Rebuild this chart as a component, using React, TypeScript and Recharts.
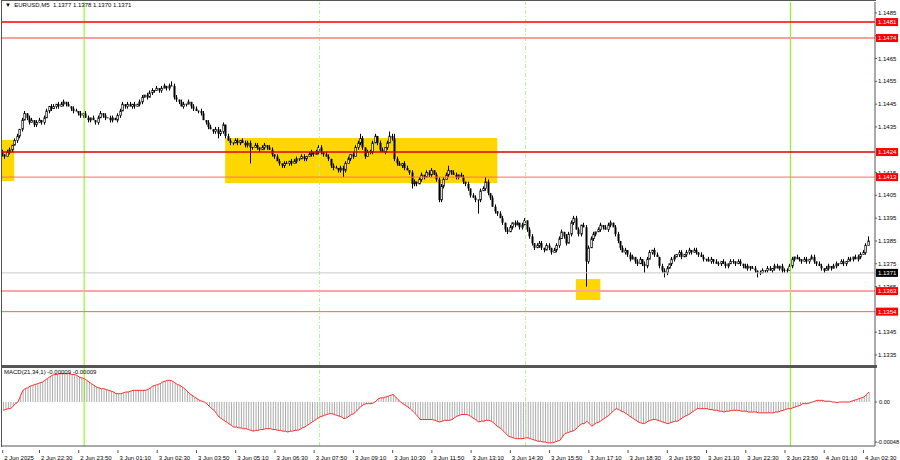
import React from "react";
import {
  ComposedChart,
  Bar,
  Line,
  XAxis,
  YAxis,
  ReferenceLine,
  ReferenceArea,
} from "recharts";

// prices are stored as pips above 1.1300 (e.g. 124 = 1.1424)
const firstOpen = 124;
const closes = [
  123, 122, 124, 125, 127, 129, 131, 134, 138, 141, 139, 137, 138, 136, 137, 138, 137, 139, 142, 144,
  143, 144, 145, 144, 145, 146, 145, 144, 143, 142, 142, 141, 140, 141, 139, 138, 139, 138, 137, 139,
  141, 140, 139, 139, 138, 139, 138, 140, 142, 145, 144, 145, 144, 145, 144, 145, 146, 148, 149, 148,
  150, 151, 151, 152, 151, 152, 153, 152, 153, 153, 148, 147, 146, 144, 145, 145, 146, 144, 143, 142,
  142, 141, 138, 137, 135, 134, 133, 134, 132, 133, 136, 131, 129, 128, 128, 129, 128, 129, 128, 127,
  128, 126, 126, 127, 126, 125, 126, 127, 126, 125, 123, 122, 120, 119, 118, 119, 119, 120, 119, 120,
  121, 121, 122, 121, 122, 123, 124, 123, 124, 126, 124, 123, 122, 121, 118, 117, 117, 116, 117, 116,
  119, 121, 123, 122, 126, 128, 130, 126, 122, 124, 124, 128, 131, 128, 125, 124, 126, 128, 131, 130,
  121, 119, 118, 119, 117, 116, 115, 110, 111, 110, 112, 114, 113, 115, 114, 116, 114, 112, 103, 109,
  112, 114, 116, 115, 114, 113, 114, 113, 111, 110, 108, 105, 104, 103, 103, 107, 108, 111, 106, 104,
  100, 98, 97, 95, 93, 90, 89, 91, 93, 92, 93, 91, 92, 94, 90, 87, 84, 82, 83, 84,
  82, 81, 83, 82, 80, 81, 83, 86, 89, 87, 84, 88, 93, 95, 90, 88, 92, 91, 76, 82,
  86, 88, 89, 90, 92, 91, 90, 92, 93, 91, 88, 85, 82, 80, 81, 79, 77, 78, 76, 75,
  77, 75, 74, 77, 80, 81, 79, 78, 74, 72, 71, 73, 75, 77, 78, 79, 80, 78, 79, 80,
  81, 80, 81, 80, 79, 78, 77, 77, 76, 77, 76, 75, 75, 76, 75, 74, 75, 76, 76, 75,
  76, 75, 74, 73, 74, 73, 73, 72, 71, 71, 72, 72, 73, 72, 73, 74, 73, 74, 72, 72,
  72, 74, 77, 78, 77, 77, 76, 77, 76, 77, 78, 76, 75, 74, 73, 72, 73, 74, 73, 74,
  75, 75, 76, 75, 76, 77, 77, 78, 77, 78, 79, 80, 83, 85,
];
const upperWicks = [
  1, 0, 1, 1, 0, 1, 1, 0, 1, 1, 0, 1, 1, 0, 1, 1, 0, 1, 1, 0,
  1, 1, 0, 1, 1, 1, 0, 1, 0, 1, 1, 0, 1, 0, 1, 1, 0, 1, 0, 1,
  1, 0, 1, 0, 1, 1, 0, 1, 1, 1, 0, 1, 1, 0, 1, 0, 1, 1, 0, 1,
  1, 1, 0, 1, 0, 1, 1, 0, 1, 2, 1, 1, 0, 1, 1, 0, 1, 0, 1, 1,
  0, 1, 1, 0, 1, 1, 0, 1, 1, 1, 1, 0, 1, 1, 0, 1, 1, 0, 1, 1,
  1, 1, 0, 1, 1, 0, 1, 1, 0, 1, 1, 0, 1, 1, 0, 1, 1, 0, 1, 1,
  1, 0, 1, 1, 0, 1, 1, 0, 1, 1, 1, 0, 1, 1, 0, 1, 1, 0, 1, 1,
  1, 1, 0, 1, 1, 1, 2, 1, 0, 1, 1, 1, 1, 0, 1, 1, 0, 1, 2, 1,
  2, 1, 1, 0, 1, 1, 0, 1, 1, 0, 1, 1, 0, 1, 1, 1, 0, 1, 1, 1,
  1, 1, 2, 0, 1, 1, 0, 1, 1, 0, 1, 0, 1, 1, 0, 1, 1, 2, 1, 0,
  1, 1, 0, 1, 1, 0, 1, 1, 0, 1, 1, 0, 1, 1, 0, 1, 1, 0, 1, 1,
  1, 0, 1, 1, 0, 1, 1, 1, 1, 0, 1, 1, 1, 1, 1, 1, 0, 1, 1, 1,
  1, 1, 0, 1, 1, 0, 1, 1, 1, 0, 1, 1, 0, 1, 1, 0, 1, 1, 0, 1,
  1, 0, 1, 1, 1, 0, 1, 1, 0, 1, 1, 1, 0, 1, 1, 0, 1, 1, 0, 1,
  1, 0, 1, 1, 0, 1, 1, 0, 1, 1, 0, 1, 1, 0, 1, 1, 0, 1, 1, 0,
  1, 1, 0, 1, 1, 0, 1, 1, 0, 1, 1, 0, 1, 1, 0, 1, 1, 0, 1, 1,
  1, 1, 1, 0, 1, 1, 0, 1, 1, 0, 1, 1, 0, 1, 1, 0, 1, 1, 0, 1,
  1, 0, 1, 1, 0, 1, 1, 0, 1, 1, 1, 1, 1, 2,
];
const lowerWicks = [
  1, 1, 0, 1, 1, 0, 1, 1, 1, 0, 1, 1, 0, 1, 1, 0, 1, 1, 0, 1,
  1, 0, 1, 1, 0, 1, 1, 0, 1, 1, 0, 1, 1, 1, 0, 1, 1, 0, 1, 1,
  0, 1, 1, 0, 1, 1, 0, 1, 1, 0, 1, 1, 0, 1, 1, 0, 1, 1, 0, 1,
  0, 1, 1, 0, 1, 1, 0, 1, 1, 0, 1, 1, 1, 0, 1, 1, 0, 1, 1, 0,
  1, 1, 0, 1, 1, 0, 1, 1, 2, 1, 1, 1, 0, 1, 1, 0, 1, 1, 0, 1,
  1, 7, 1, 0, 1, 1, 0, 1, 1, 0, 1, 1, 0, 1, 1, 1, 0, 1, 1, 0,
  1, 1, 0, 1, 1, 0, 1, 1, 0, 1, 1, 1, 0, 1, 1, 1, 0, 1, 1, 3,
  1, 0, 1, 1, 0, 1, 1, 1, 1, 0, 1, 1, 0, 1, 1, 0, 1, 1, 0, 1,
  1, 1, 0, 1, 1, 0, 1, 2, 1, 1, 0, 1, 1, 0, 1, 1, 0, 1, 1, 1,
  1, 0, 1, 1, 0, 1, 1, 0, 1, 1, 1, 1, 0, 1, 6, 1, 0, 1, 1, 1,
  0, 1, 1, 0, 1, 1, 1, 0, 1, 1, 0, 1, 1, 0, 1, 1, 1, 1, 0, 1,
  1, 1, 0, 1, 1, 0, 1, 1, 0, 1, 1, 0, 1, 1, 0, 1, 1, 0, 11, 1,
  0, 1, 1, 0, 1, 1, 0, 1, 1, 0, 1, 1, 1, 0, 1, 1, 1, 0, 1, 1,
  0, 1, 3, 1, 0, 1, 1, 0, 1, 1, 2, 1, 0, 1, 1, 0, 1, 1, 0, 1,
  1, 1, 0, 1, 1, 0, 1, 1, 0, 1, 1, 0, 1, 1, 0, 1, 1, 0, 1, 1,
  0, 1, 1, 0, 1, 1, 0, 1, 2, 1, 0, 1, 1, 0, 1, 1, 0, 1, 1, 1,
  1, 0, 1, 1, 0, 1, 1, 0, 1, 1, 0, 1, 1, 0, 1, 1, 0, 1, 1, 0,
  1, 1, 0, 1, 1, 0, 1, 1, 0, 1, 1, 0, 1, 0,
];
// MACD(21,34,1) main line in units of 0.00001 (signal equals main with period 1)
const macdValues = [
  -10, -9, -8, -8, -5, -2, 0, 7, 14, 16, 17, 19, 20, 21, 22, 23, 24, 26, 28, 30,
  32, 33, 33, 34, 34, 34, 34, 34, 33, 33, 32, 30, 29, 28, 26, 24, 22, 20, 18, 17,
  16, 16, 15, 14, 13, 12, 10, 10, 10, 11, 12, 12, 13, 14, 14, 14, 14, 14, 14, 15,
  17, 19, 20, 21, 22, 24, 25, 26, 26, 25, 23, 21, 20, 18, 16, 13, 10, 8, 6, 4,
  2, 1, 0, -2, -5, -8, -10, -14, -18, -20, -22, -24, -26, -28, -30, -30, -31, -31, -32, -32,
  -33, -34, -35, -34, -34, -33, -33, -32, -32, -32, -33, -33, -34, -34, -35, -35, -36, -35, -35, -34,
  -34, -33, -31, -30, -28, -26, -24, -22, -20, -18, -17, -16, -15, -14, -14, -15, -16, -17, -18, -20,
  -19, -17, -15, -14, -11, -8, -5, -3, -2, -2, -2, -1, 1, 4, 5, 5, 6, 7, 8, 9,
  6, 3, 0, -2, -4, -6, -8, -11, -14, -17, -21, -21, -21, -21, -21, -21, -22, -23, -24, -23,
  -22, -22, -22, -21, -19, -17, -16, -15, -15, -15, -16, -18, -20, -22, -24, -23, -23, -22, -22, -23,
  -25, -28, -30, -32, -35, -38, -41, -42, -43, -44, -44, -44, -44, -43, -43, -44, -45, -46, -47, -47,
  -48, -48, -49, -49, -49, -48, -47, -46, -42, -38, -37, -36, -35, -34, -31, -28, -26, -26, -23, -26,
  -29, -27, -25, -24, -22, -20, -18, -16, -13, -10, -8, -9, -11, -12, -14, -16, -18, -20, -22, -24,
  -25, -26, -25, -23, -22, -21, -21, -22, -23, -24, -25, -26, -25, -24, -23, -23, -21, -19, -17, -16,
  -14, -12, -10, -8, -8, -8, -8, -8, -9, -9, -10, -10, -11, -11, -12, -11, -11, -10, -10, -10,
  -10, -11, -11, -11, -12, -12, -12, -12, -13, -13, -13, -13, -13, -13, -13, -12, -12, -11, -10, -9,
  -8, -8, -7, -6, -5, -4, -2, -2, -2, -1, 0, 1, 2, 2, 2, 1, 1, 1, 0, 0,
  -1, 0, 0, 0, 0, 0, 1, 2, 3, 4, 5, 6, 9, 12,
];

const slotCount = 356; // two empty slots on the right (chart shift)
const timeTickIdx = [0, 15, 31, 47, 63, 79, 95, 111, 127, 143, 159, 175, 191, 207, 223, 239, 255, 271, 287, 303, 319, 335, 351];
const timeTickText = [
  "2 Jun 2025", "2 Jun 22:30", "2 Jun 23:50", "3 Jun 01:10", "3 Jun 02:30", "3 Jun 03:50",
  "3 Jun 05:10", "3 Jun 06:30", "3 Jun 07:50", "3 Jun 09:10", "3 Jun 10:30", "3 Jun 11:50",
  "3 Jun 13:10", "3 Jun 14:30", "3 Jun 15:50", "3 Jun 17:10", "3 Jun 18:30", "3 Jun 19:50",
  "3 Jun 21:10", "3 Jun 22:30", "3 Jun 23:50", "4 Jun 01:10", "4 Jun 02:30",
];
// 1.1355 and 1.1425 sit fully under their level tags, so they are not drawn
const priceTicks = [1.1335, 1.1345, 1.1365, 1.1375, 1.1385, 1.1395, 1.1405, 1.1415, 1.1435, 1.1445, 1.1455, 1.1465, 1.1475, 1.1485];
const macdTicks = [0.00036, 0, -0.00048];

const levels = [
  { price: 1.1481, color: "#ff0000", width: 1.4, tag: "#ff0000" },
  { price: 1.1474, color: "#ff9c9c", width: 2, tag: "#ff0000" },
  { price: 1.1424, color: "#e00000", width: 1.4, tag: "#ff0000" },
  { price: 1.1413, color: "#ff6a6a", width: 1, tag: "#ff0000" },
  { price: 1.1371, color: "#c8c8c8", width: 1, tag: "#000000" },
  { price: 1.1363, color: "#ffa4a4", width: 2, tag: "#ff0000" },
  { price: 1.1354, color: "#ff5c5c", width: 1, tag: "#ff0000" },
];
const zones = [
  { from: 0, to: 4, top: 1.14293, bottom: 1.14113 },
  { from: 91, to: 201, top: 1.14302, bottom: 1.14104 },
  { from: 234, to: 243, top: 1.13683, bottom: 1.13591 },
];
const sessionLines = [
  { idx: 33, dashed: false },
  { idx: 129, dashed: true },
  { idx: 213, dashed: true },
  { idx: 321, dashed: false },
];

const toPrice = (pips: number) => 1.13 + pips / 10000;

const rows = Array.from({ length: slotCount }, (_, i) => {
  if (i >= closes.length) return { idx: i };
  const o = i === 0 ? firstOpen : closes[i - 1];
  const c = closes[i];
  const h = Math.max(o, c) + upperWicks[i];
  const l = Math.min(o, c) - lowerWicks[i];
  return {
    idx: i,
    o: toPrice(o),
    c: toPrice(c),
    h: toPrice(h),
    l: toPrice(l),
    range: [toPrice(l), toPrice(h)],
    macd: macdValues[i] / 100000,
  };
});

const FONT = "'Liberation Sans', Arial, sans-serif";
const PRICE_DOMAIN = [1.13306, 1.14898];

function Candle(props: any) {
  const { x, y, width, height, payload } = props;
  if (!payload || payload.h == null || x == null) return null;
  const { o, h, l, c } = payload;
  const span = h - l;
  const py = (v: number) => (span > 0 ? y + ((h - v) / span) * height : y);
  const px = Math.round(x + width / 2);
  const top = py(Math.max(o, c));
  const bot = py(Math.min(o, c));
  const bull = c > o;
  return (
    <g>
      <line x1={px - 0.5} x2={px - 0.5} y1={py(h)} y2={py(l)} stroke="#000" strokeWidth={1} />
      {c === o ? (
        <line x1={px - 1.5} x2={px + 0.5} y1={top} y2={top} stroke="#000" strokeWidth={1} />
      ) : bull ? (
        <rect x={px - 1.2} y={top} width={1.6} height={Math.max(bot - top, 1)} fill="#fff" stroke="#000" strokeWidth={0.7} />
      ) : (
        <rect x={px - 1.5} y={top} width={2} height={Math.max(bot - top, 1)} fill="#000" />
      )}
    </g>
  );
}

function PriceTag(props: any) {
  const { viewBox, text, bg } = props;
  if (!viewBox) return null;
  const x0 = viewBox.x + viewBox.width + 1;
  const yy = viewBox.y;
  return (
    <g>
      <rect x={x0} y={yy - 4} width={22} height={8} fill={bg} />
      <text x={x0 + 2} y={yy + 2.2} fontSize={6} fontFamily={FONT} fill="#fff">
        {text}
      </text>
    </g>
  );
}

function TimeTick(props: any) {
  const { x, y, payload } = props;
  const k = timeTickIdx.indexOf(payload.value);
  return (
    <g>
      <line x1={x - 0.5} x2={x - 0.5} y1={y - 4} y2={y - 1} stroke="#555" />
      <text x={x + 1} y={y + 6} fontSize={6} fontFamily={FONT} fill="#000" textAnchor="start">
        {timeTickText[k]}
      </text>
    </g>
  );
}

function MacdTick(props: any) {
  const { x, y, payload } = props;
  const v = payload.value as number;
  const txt = v === 0 ? "0.00" : v.toFixed(5);
  return (
    <text x={v < 0 ? x - 1 : x + 1} y={y + 2} fontSize={5.6} fontFamily={FONT} fill="#000" textAnchor="start">
      {txt}
    </text>
  );
}

function sessionLine(s: { idx: number; dashed: boolean }) {
  return (
    <ReferenceLine
      key={"s" + s.idx}
      x={s.idx}
      stroke={s.dashed ? "#b8f08c" : "#7cfc00"}
      strokeWidth={1}
      strokeDasharray={s.dashed ? "4 2 1 2" : undefined}
    />
  );
}

export default function App() {
  return (
    <div style={{ position: "absolute", left: 0, top: 0, width: 900, height: 460, background: "#fff", overflow: "hidden" }}>
      <div style={{ position: "absolute", left: 0, top: 0 }}>
        <ComposedChart width={900} height={366} data={rows} margin={{ top: 2, right: 0, left: 2, bottom: 1 }} barCategoryGap={0}>
          <XAxis dataKey="idx" type="category" hide />
          <YAxis
            orientation="right"
            width={25}
            type="number"
            domain={PRICE_DOMAIN}
            allowDataOverflow
            ticks={priceTicks}
            tickFormatter={(v: number) => v.toFixed(4)}
            tick={{ fontSize: 6, fill: "#000", fontFamily: FONT }}
            tickSize={2}
            tickMargin={1}
            axisLine={{ stroke: "#555" }}
            tickLine={{ stroke: "#555" }}
          />
          {zones.map((z, k) => (
            <ReferenceArea key={"z" + k} x1={z.from} x2={z.to} y1={z.bottom} y2={z.top} fill="#ffd700" fillOpacity={1} stroke="none" />
          ))}
          {sessionLines.map(sessionLine)}
          {levels.map((lv) => (
            <ReferenceLine key={"l" + lv.price} y={lv.price} stroke={lv.color} strokeWidth={lv.width} />
          ))}
          <Bar dataKey="range" shape={<Candle />} isAnimationActive={false} />
        </ComposedChart>
      </div>
      {/* price tags drawn in an overlay so they sit above the axis labels */}
      <div style={{ position: "absolute", left: 0, top: 0 }}>
        <ComposedChart width={900} height={366} data={rows} margin={{ top: 2, right: 25, left: 2, bottom: 1 }}>
          <XAxis dataKey="idx" type="category" hide />
          <YAxis type="number" domain={PRICE_DOMAIN} allowDataOverflow hide />
          {levels.map((lv) => (
            <ReferenceLine
              key={"t" + lv.price}
              y={lv.price}
              stroke="#000"
              strokeOpacity={0}
              label={<PriceTag text={lv.price.toFixed(4)} bg={lv.tag} />}
            />
          ))}
        </ComposedChart>
      </div>
      <div style={{ position: "absolute", left: 0, top: 366 }}>
        <ComposedChart width={900} height={94} data={rows} margin={{ top: 2, right: 0, left: 2, bottom: 0 }} barCategoryGap={0}>
          <XAxis
            dataKey="idx"
            type="category"
            height={14}
            ticks={timeTickIdx}
            interval={0}
            tick={<TimeTick />}
            tickLine={false}
            axisLine={{ stroke: "#555" }}
          />
          <YAxis
            orientation="right"
            width={25}
            type="number"
            domain={[-0.000528, 0.000408]}
            allowDataOverflow
            ticks={macdTicks}
            tick={<MacdTick />}
            tickSize={2}
            tickMargin={1}
            axisLine={{ stroke: "#555" }}
            tickLine={{ stroke: "#555" }}
          />
          {sessionLines.map(sessionLine)}
          <Bar dataKey="macd" fill="#ababab" barSize={1} isAnimationActive={false} />
          <Line dataKey="macd" type="linear" stroke="#ff2a2a" strokeWidth={1} dot={false} isAnimationActive={false} />
        </ComposedChart>
      </div>
      <div style={{ position: "absolute", left: 1, top: 0, width: 875, height: 1, background: "#555" }} />
      <div style={{ position: "absolute", left: 1, top: 0, width: 1, height: 447, background: "#555" }} />
      <div style={{ position: "absolute", left: 1, top: 365, width: 876, height: 3, background: "#555" }} />
      <div style={{ position: "absolute", left: 5, top: 2, fontSize: 6, fontFamily: FONT, color: "#000", whiteSpace: "pre" }}>
        {"▼  EURUSD,M5  1.1377 1.1378 1.1370 1.1371"}
      </div>
      <div style={{ position: "absolute", left: 4, top: 369, fontSize: 6, fontFamily: FONT, color: "#000", whiteSpace: "pre" }}>
        {"MACD(21,34,1) -0.00009 -0.00009"}
      </div>
    </div>
  );
}
